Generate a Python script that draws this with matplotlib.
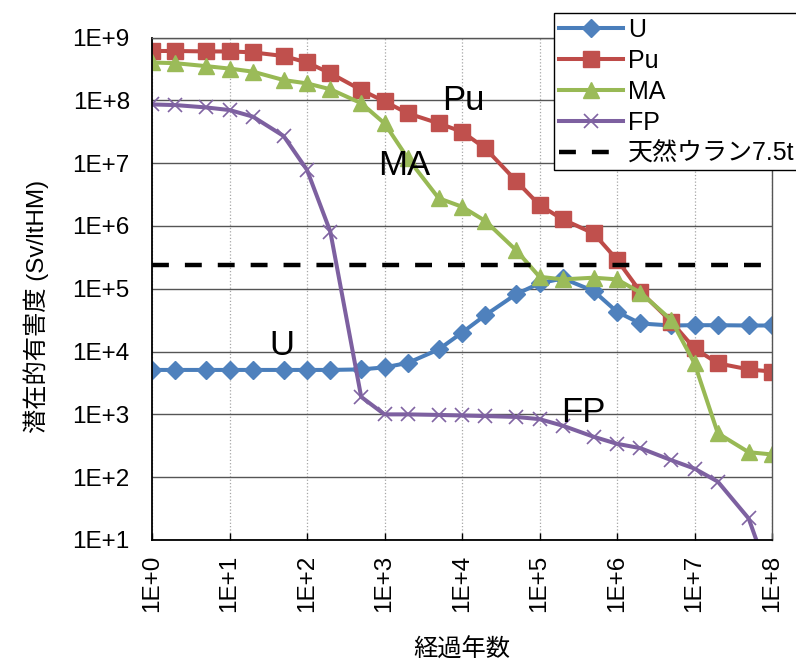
import matplotlib
matplotlib.use("Agg")
import matplotlib.pyplot as plt
from matplotlib.ticker import FixedLocator, FixedFormatter, NullLocator

plt.rcParams['font.family'] = ['Liberation Sans', 'Noto Sans CJK JP']

# Elapsed years
years = [1, 2, 5, 10, 20, 50, 100, 200, 500, 1e3, 2e3, 5e3, 1e4, 2e4, 5e4,
         1e5, 2e5, 5e5, 1e6, 2e6, 5e6, 1e7, 2e7, 5e7, 1e8]

# Potential radiotoxicity (Sv/tHM) by component
u_vals = [5.1e3, 5.1e3, 5.1e3, 5.1e3, 5.1e3, 5.1e3, 5.1e3, 5.1e3, 5.2e3, 5.6e3,
          6.6e3, 1.08e4, 2.0e4, 3.8e4, 8.2e4, 1.22e5, 1.46e5, 9.2e4, 4.3e4,
          2.8e4, 2.6e4, 2.63e4, 2.63e4, 2.6e4, 2.6e4]
pu_vals = [6.1e8, 6.1e8, 6.0e8, 6.0e8, 5.8e8, 5.07e8, 4.0e8, 2.7e8, 1.46e8, 9.6e7,
           6.2e7, 4.3e7, 3.16e7, 1.72e7, 5.2e6, 2.15e6, 1.27e6, 7.6e5, 2.9e5,
           9.0e4, 3.0e4, 1.12e4, 6.5e3, 5.2e3, 4.8e3]
ma_vals = [4.0e8, 3.9e8, 3.5e8, 3.2e8, 2.86e8, 2.1e8, 1.86e8, 1.5e8, 9.0e7, 4.3e7,
           1.19e7, 2.76e6, 2.02e6, 1.2e6, 4.1e5, 1.55e5, 1.41e5, 1.5e5, 1.41e5,
           8.7e4, 3.2e4, 6.5e3, 5.0e2, 2.5e2, 2.3e2]
fp_vals = [8.6e7, 8.4e7, 7.7e7, 7.0e7, 5.5e7, 2.7e7, 7.8e6, 8.1e5, 1.9e3, 1.0e3,
           1.0e3, 9.8e2, 9.6e2, 9.4e2, 9.1e2, 8.4e2, 6.6e2, 4.4e2, 3.4e2,
           2.9e2, 1.87e2, 1.37e2, 8.5e1, 2.2e1, 2.0]

# Natural uranium reference level (7.5 t)
nat_u_level = 2.35e5

x_ticks = [1, 1e1, 1e2, 1e3, 1e4, 1e5, 1e6, 1e7, 1e8]
x_labels = ['1E+0', '1E+1', '1E+2', '1E+3', '1E+4', '1E+5', '1E+6', '1E+7', '1E+8']
y_ticks = [1e1, 1e2, 1e3, 1e4, 1e5, 1e6, 1e7, 1e8, 1e9]
y_labels = ['1E+1', '1E+2', '1E+3', '1E+4', '1E+5', '1E+6', '1E+7', '1E+8', '1E+9']

W, H = 796, 662
fig = plt.figure(figsize=(W / 100, H / 100), dpi=100)
ax = fig.add_axes([152 / W, 1 - 540 / H, (772 - 152) / W, (540 - 37.5) / H])

ax.set_xscale('log')
ax.set_yscale('log')
ax.set_xlim(1, 1e8)
ax.set_ylim(1e1, 1e9)

# Grid: solid horizontal, dotted vertical
ax.set_axisbelow(True)
ax.yaxis.grid(True, color='#555555', linewidth=1.0, linestyle='-')
ax.xaxis.grid(True, color='#a6a6a6', linewidth=0.9, linestyle=':')

lw = 2.9
l_u, = ax.plot(years, u_vals, color='#4A7EBB', lw=lw, marker='D', ms=9.5,
               mfc='#4F81BD', mec='#4F81BD', label='U')
l_pu, = ax.plot(years, pu_vals, color='#BE4B48', lw=lw, marker='s', ms=11,
                mfc='#C0504D', mec='#C0504D', label='Pu')
l_ma, = ax.plot(years, ma_vals, color='#98B954', lw=lw, marker='^', ms=12,
                mfc='#9BBB59', mec='#9BBB59', label='MA')
l_fp, = ax.plot(years, fp_vals, color='#7D60A0', lw=lw, marker='x', ms=10,
                mew=1.2, mec='#8064A2', label='FP')
l_nu, = ax.plot([years[0], years[-1]], [nat_u_level, nat_u_level], color='black',
                lw=3.2, dashes=(3.8, 3.6), label='天然ウラン7.5t')

ax.xaxis.set_major_locator(FixedLocator(x_ticks))
ax.xaxis.set_major_formatter(FixedFormatter(x_labels))
ax.xaxis.set_minor_locator(NullLocator())
ax.yaxis.set_major_locator(FixedLocator(y_ticks))
ax.yaxis.set_major_formatter(FixedFormatter(y_labels))
ax.yaxis.set_minor_locator(NullLocator())

ax.tick_params(axis='x', direction='in', length=5, width=1, pad=10.5,
               labelsize=17.5, labelrotation=90, colors='black')
ax.tick_params(axis='y', direction='in', length=0, pad=16, labelsize=17.5)

for side in ('left', 'bottom'):
    ax.spines[side].set_color('black')
    ax.spines[side].set_linewidth(1.3)
for side in ('top', 'right'):
    ax.spines[side].set_color('#555555')
    ax.spines[side].set_linewidth(1.0)

# Series labels on the curves
ax.text(10 ** 4.02, 10 ** 7.846, 'Pu', fontsize=25, ha='center', va='baseline')
ax.text(10 ** 3.26, 10 ** 6.81, 'MA', fontsize=25, ha='center', va='baseline')
ax.text(10 ** 1.676, 10 ** 3.944, 'U', fontsize=25, ha='center', va='baseline')
ax.text(10 ** 5.57, 10 ** 2.882, 'FP', fontsize=25, ha='center', va='baseline')

fig.text(36 / W, 1 - 306.5 / H, '潜在的有害度 (Sv/ltHM)', rotation=90,
         ha='center', va='center', fontsize=17.5)
fig.text(462 / W, 1 - 650 / H, '経過年数', ha='center', va='center', fontsize=17.5)

leg = fig.legend(handles=[l_u, l_pu, l_ma, l_fp, l_nu], loc='upper left',
                 bbox_to_anchor=(554.3 / W, 1 - 13.3 / H), borderaxespad=0,
                 fontsize=18, frameon=True, fancybox=False, framealpha=1,
                 edgecolor='black', handlelength=2.57, handletextpad=0.2,
                 labelspacing=0.28, borderpad=0.18)
leg.get_frame().set_linewidth(1.0)

fig.savefig('out.png', dpi=100)
